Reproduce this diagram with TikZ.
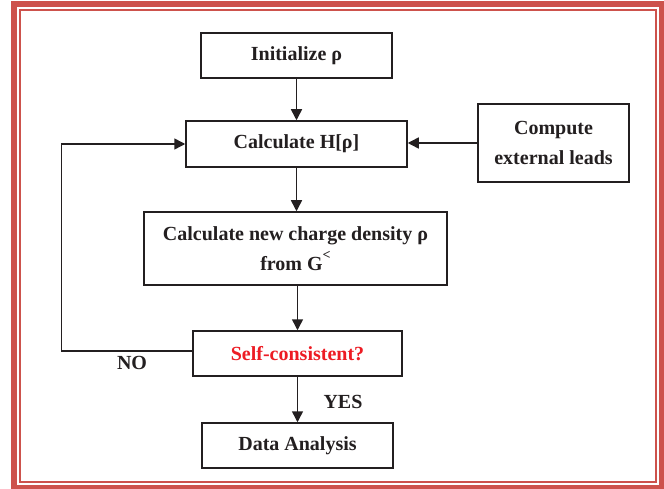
\documentclass[tikz,border=0pt]{standalone}
\usepackage{fontspec}
\setmainfont{Liberation Serif}
\usetikzlibrary{arrows.meta}
\definecolor{framered}{RGB}{205,82,76}
\definecolor{inkgray}{RGB}{35,31,32}
\definecolor{askred}{RGB}{237,28,36}
\begin{document}
\begin{tikzpicture}[x=1pt,y=-1pt,
  stepbox/.style={draw=inkgray, line width=1.5pt, inner sep=0pt, align=center,
    text=inkgray, font=\bfseries\fontsize{20}{30}\selectfont},
  flow/.style={draw=inkgray, line width=1.5pt, -{Triangle[length=11pt,width=11pt]}},
  answer/.style={text=inkgray, font=\bfseries\fontsize{20}{24}\selectfont}]
  \useasboundingbox (0,0) rectangle (664,489);
  \fill[white] (0,0) rectangle (664,489);
  % double frame
  \draw[framered, line width=6pt] (14,4) rectangle (662,488);
  \draw[framered, line width=2pt] (20,10) rectangle (656,482);
  % boxes
  \node[stepbox, minimum width=191pt, minimum height=45pt] (init) at (296.5,55.5) {Initialize ρ};
  \node[stepbox, minimum width=221pt, minimum height=46pt] (hcalc) at (296.5,144) {Calculate H[ρ]};
  \node[stepbox, minimum width=151pt, minimum height=78pt] (leads) at (553.5,143) {Compute\\external leads};
  \node[stepbox, minimum width=303pt, minimum height=73pt] (density) at (295.5,248.5)
    {Calculate new charge density ρ\\from G\raisebox{0.55em}{\fontsize{14}{14}\selectfont <}};
  \node[stepbox, minimum width=209pt, minimum height=45pt, text=askred] (check) at (297.5,353.5) {Self-consistent?};
  \node[stepbox, minimum width=191pt, minimum height=45pt] (analysis) at (297.5,445.5) {Data Analysis};
  % connectors
  \draw[flow] (init.south) -- (hcalc.north);
  \draw[flow] (hcalc.south) -- (hcalc.south |- density.north);
  \draw[flow] (density.south -| check.north) -- (check.north);
  \draw[flow] (check.south) -- (analysis.north);
  \draw[flow] (leads.west) -- (leads.west -| hcalc.east);
  \draw[flow] ([yshift=2.5pt]check.west) -- ++(-131,0) |- (hcalc.west);
  \node[answer] (nolabel) at (132,363) {NO};
  \node[answer] (yeslabel) at (343,402) {YES};
\end{tikzpicture}
\end{document}
